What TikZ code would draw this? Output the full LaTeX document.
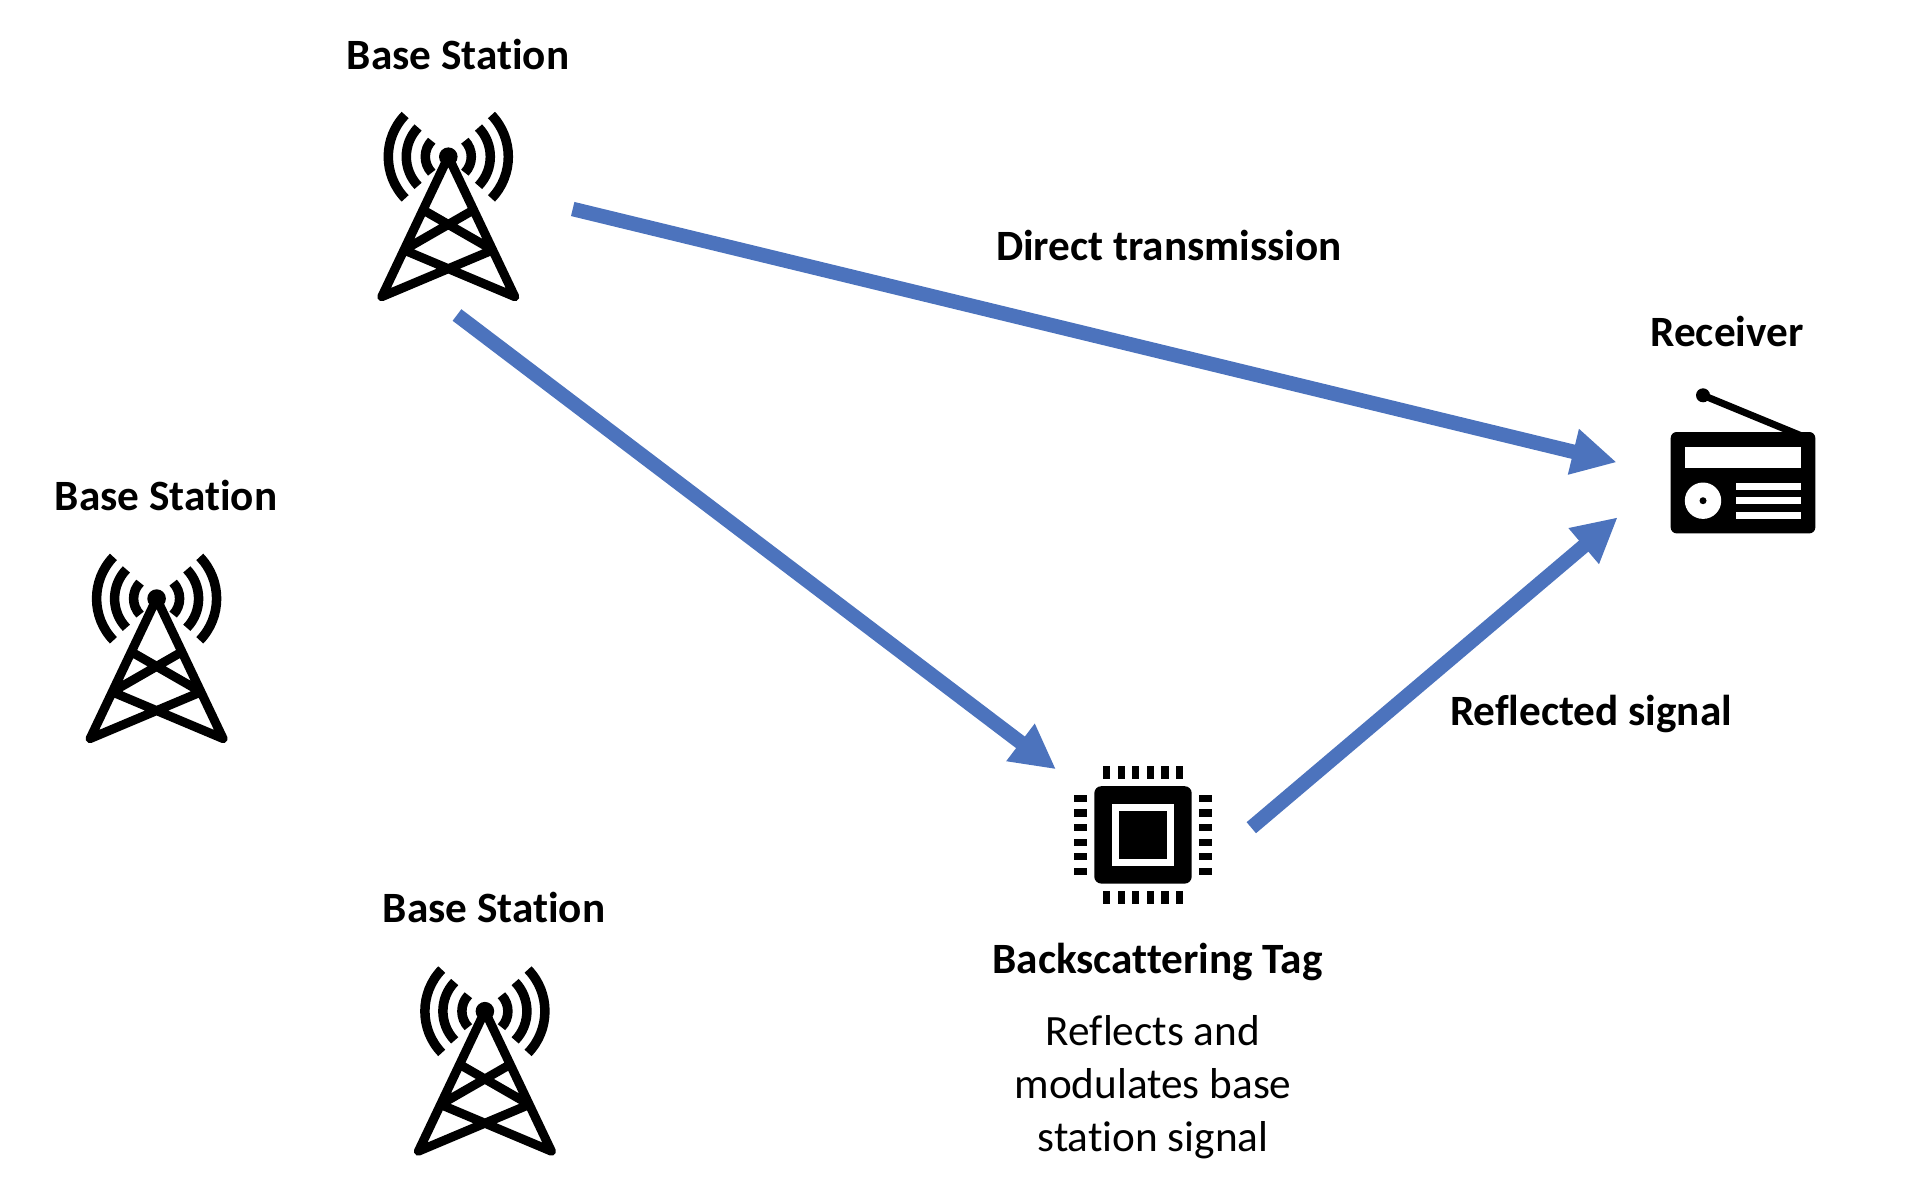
\documentclass[tikz,border=0pt]{standalone}
\usepackage{fontspec}
\setmainfont[Ligatures={NoCommon}]{Carlito}
\usepackage{xcolor}
\usetikzlibrary{positioning,arrows.meta}

\definecolor{linkblue}{HTML}{4C73BD}

\tikzset{
    link/.style={line width=0.145cm, linkblue, -{Triangle[length=0.446cm,width=0.438cm]}},
    heading/.style={font=\fontsize{12.3}{15}\selectfont\bfseries, anchor=base},
    note/.style={font=\fontsize{12.3}{15.1}\selectfont, align=center},
    basetower/.pic={
        % Waves
        \foreach \r in {0.23,0.42,0.60} {
            \draw[line width=0.095cm] (44:\r) arc[start angle=44, end angle=-44, radius=\r];
            \draw[line width=0.095cm] (136:\r) arc[start angle=136, end angle=224, radius=\r];
        }
        \fill (0,0) circle (0.093);
        % Legs and bracing
        \draw[line width=0.09cm, line cap=round, line join=round]
            (-0.444,-0.933) -- (0.253,-0.532)
            (0.444,-0.933) -- (-0.253,-0.532)
            (-0.665,-1.40) -- (0.444,-0.933)
            (0.665,-1.40) -- (-0.444,-0.933)
            (-0.665,-1.40) -- (0,0) -- (0.665,-1.40);
    },
    tagchip/.pic={
        \fill[rounded corners=0.07cm] (-0.487,-0.487) rectangle (0.487,0.487);
        \fill[white] (-0.307,-0.307) rectangle (0.307,0.307);
        \fill (-0.237,-0.237) rectangle (0.237,0.237);
        % Pins
        \foreach \d in {-0.363,-0.218,-0.073,0.073,0.218,0.363} {
            \fill (\d-0.037,0.563) rectangle (\d+0.037,0.690);
            \fill (\d-0.037,-0.690) rectangle (\d+0.037,-0.563);
            \fill (-0.690,\d-0.037) rectangle (-0.563,\d+0.037);
            \fill (0.563,\d-0.037) rectangle (0.690,\d+0.037);
        }
    },
    radioset/.pic={
        \fill[rounded corners=0.06cm] (-0.723,-0.507) rectangle (0.723,0.507);
        % Antenna
        \draw[line width=0.07cm] (-0.40,0.874) -- (0.60,0.462);
        \fill (-0.40,0.874) circle (0.07);
        % Display, dial and speaker
        \fill[white] (-0.58,0.147) rectangle (0.58,0.36);
        \fill[white] (-0.40,-0.18) circle (0.182);
        \fill (-0.40,-0.18) circle (0.035);
        \fill[white] (-0.073,-0.073) rectangle (0.58,0);
        \fill[white] (-0.073,-0.216) rectangle (0.58,-0.146);
        \fill[white] (-0.073,-0.363) rectangle (0.58,-0.29);
    },
}

\begin{document}
\begin{tikzpicture}

\useasboundingbox (0,0) rectangle (19.14,11.94);

% ===========================
% Base stations
% ===========================
\pic (bs1) at (4.483,10.373) {basetower};
\pic (bs2) at (1.566,5.954) {basetower};
\pic (bs3) at (4.849,1.828) {basetower};

\node[heading] (bs1label) at (4.58,11.24) {Base Station};
\node[heading] (bs2label) at (1.66,6.84) {Base Station};
\node[heading] (bs3label) at (4.94,2.72) {Base Station};

% ===========================
% Tag and receiver
% ===========================
\pic (tag) at (11.43,3.591) {tagchip};
\pic (radio) at (17.43,7.113) {radioset};

\node[heading] (taglabel) at (11.575,2.21) {Backscattering Tag};
\node[note] (tagnote) at (11.53,1.07) {Reflects and\\modulates base\\station signal};
\node[heading] (radiolabel) at (17.27,8.48) {Receiver};

% ===========================
% Links
% ===========================
\coordinate (bs1right) at (5.727,9.85);
\coordinate (bs1below) at (4.57,8.79);
\coordinate (tagin) at (10.56,4.247);
\coordinate (tagout) at (12.513,3.663);
\coordinate (radiotop) at (16.167,7.317);
\coordinate (radiobottom) at (16.177,6.767);

\draw[link] (bs1right) -- (radiotop);
\draw[link] (bs1below) -- (tagin);
\draw[link] (tagout) -- (radiobottom);

\node[heading] (directlabel) at (11.69,9.34) {Direct transmission};
\node[heading] (reflectlabel) at (15.91,4.69) {Reflected signal};

\end{tikzpicture}
\end{document}
